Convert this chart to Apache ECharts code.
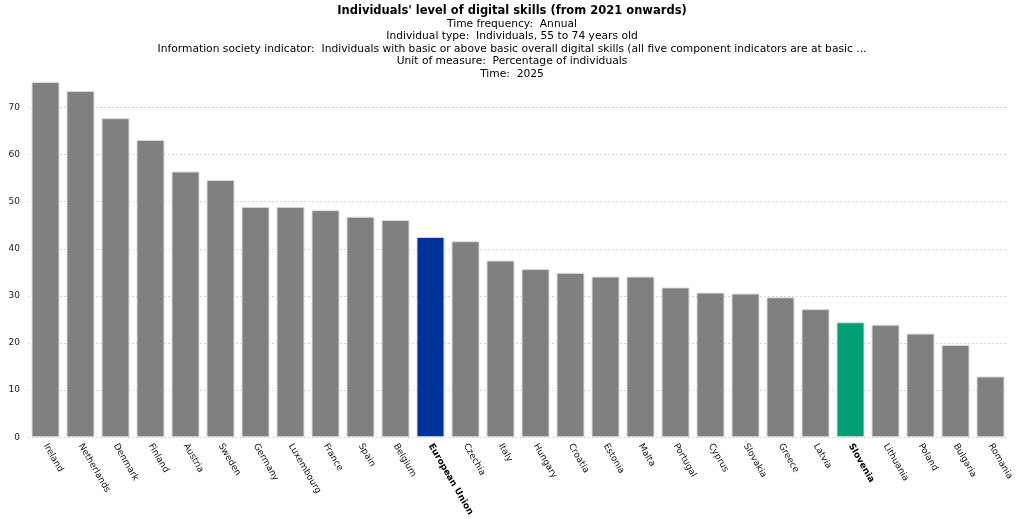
<!DOCTYPE html>
<html>
<head>
<meta charset="utf-8">
<script src="https://cdn.jsdelivr.net/npm/echarts@6/dist/echarts.min.js"></script>
<style>
  html, body { margin: 0; padding: 0; background: #fff; }
  #chart { width: 1024px; height: 519px; }
</style>
</head>
<body>
<div id="chart"></div>
<script>
const COUNTRIES = [
  "Ireland", "Netherlands", "Denmark", "Finland", "Austria", "Sweden", "Germany",
  "Luxembourg", "France", "Spain", "Belgium", "European Union", "Czechia", "Italy",
  "Hungary", "Croatia", "Estonia", "Malta", "Portugal", "Cyprus", "Slovakia",
  "Greece", "Latvia", "Slovenia", "Lithuania", "Poland", "Bulgaria", "Romania"
];
const VALUES = [
  75.4, 73.5, 67.7, 63.1, 56.4, 54.6, 48.9,
  48.9, 48.2, 46.8, 46.1, 42.5, 41.6, 37.5,
  35.7, 34.9, 34.1, 34.1, 31.8, 30.7, 30.5,
  29.7, 27.2, 24.4, 23.9, 22.0, 19.6, 12.9
];
const HIGHLIGHT = { "European Union": "#003399", "Slovenia": "#009E73" };
const BAR_COLOR = "#808080";

const TITLE = "Individuals' level of digital skills (from 2021 onwards)";
const SUBTITLE_LINES = [
  "Time frequency:  Annual",
  "Individual type:  Individuals, 55 to 74 years old",
  "Information society indicator:  Individuals with basic or above basic overall digital skills (all five component indicators are at basic ...",
  "Unit of measure:  Percentage of individuals",
  "Time:  2025"
];

const FONT = "DejaVu Sans";
const chart = echarts.init(document.getElementById("chart"));

chart.setOption({
  animation: false,
  textStyle: { fontFamily: FONT },
  title: {
    text: TITLE,
    subtext: SUBTITLE_LINES.join("\n"),
    left: "center",
    top: 0,
    itemGap: 0,
    textStyle: { fontFamily: FONT, fontSize: 11.5, fontWeight: "bold", color: "#000", lineHeight: 12.5 },
    subtextStyle: { fontFamily: FONT, fontSize: 10.7, color: "#000", lineHeight: 12.5, align: "center" }
  },
  grid: { left: 28, right: 16, top: 65, bottom: 81, containLabel: false },
  xAxis: {
    type: "category",
    data: COUNTRIES,
    axisLine: { show: false },
    axisTick: { show: false },
    axisLabel: {
      interval: 0,
      rotate: -60,
      margin: 7,
      fontSize: 9,
      color: "#111",
      formatter: v => HIGHLIGHT[v] ? `{b|${v}}` : v,
      rich: { b: { fontWeight: "bold", fontSize: 9, color: "#000", fontFamily: FONT } }
    }
  },
  yAxis: {
    type: "value",
    min: 0,
    max: 79,
    interval: 10,
    axisLine: { show: false },
    axisTick: { show: false },
    axisLabel: { fontSize: 9, color: "#222", margin: 8, showMaxLabel: false },
    splitLine: {
      show: true,
      showMaxLine: false,
      lineStyle: { color: "#d4d4d4", type: [2, 2], width: 1 }
    }
  },
  series: [{
    type: "bar",
    barCategoryGap: "20%",
    data: VALUES.map((v, i) => ({
      value: v,
      itemStyle: { color: HIGHLIGHT[COUNTRIES[i]] || BAR_COLOR }
    })),
    itemStyle: { borderColor: "#dcdcdc", borderWidth: 1 }
  }]
});
</script>
</body>
</html>
